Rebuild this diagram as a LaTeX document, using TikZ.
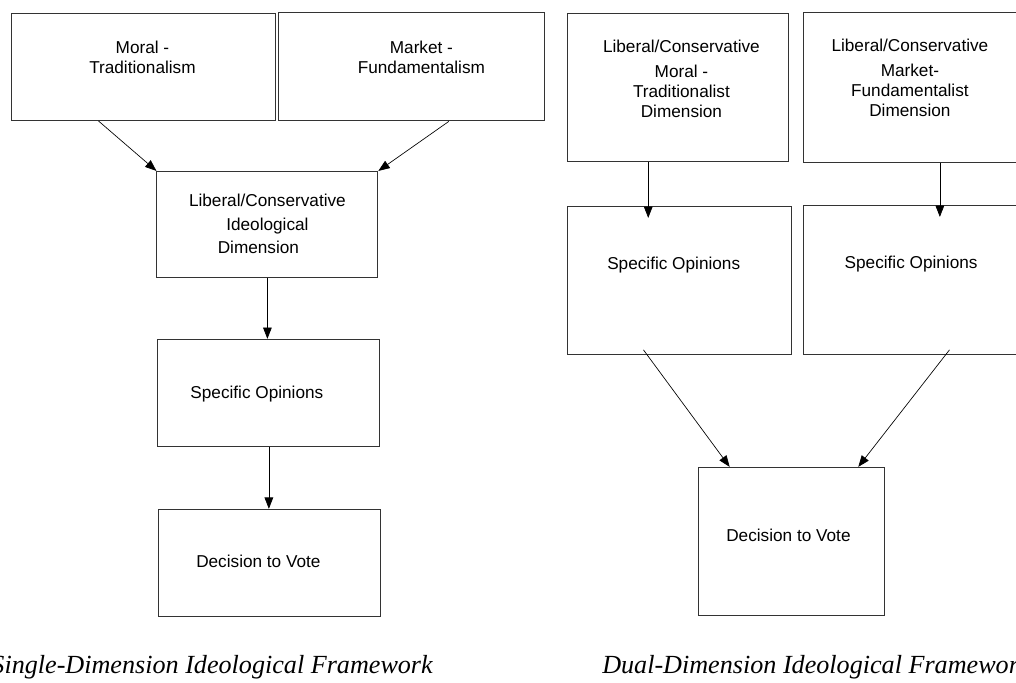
\documentclass[tikz,border=0pt]{standalone}
\usepackage{fontspec}
\setmainfont{Liberation Sans}
\newfontfamily\captionfont{Liberation Serif}
\usetikzlibrary{positioning, calc, arrows.meta}

\begin{document}
\begin{tikzpicture}[>={Triangle[length=8.5pt,width=6.5pt]},
    box/.style={draw=black!80, line width=0.7pt, rectangle, inner sep=0pt},
    boxtext/.style={inner sep=0pt, align=center, font=\fontsize{12.9}{15}\selectfont},
    link/.style={->, line width=0.5pt},
    caption/.style={inner sep=0pt, font=\captionfont\itshape\fontsize{19.6}{24}\selectfont}]
\useasboundingbox (0,0) rectangle (762pt,511.5pt);

% Left: single dimension
\node[box, minimum width=198pt, minimum height=80.25pt, anchor=north west] (moral) at (8.25pt,501.75pt) {};
\node[box, minimum width=199.5pt, minimum height=81pt, right=1.5pt of moral] (market) {};
\node[box, minimum width=165.75pt, minimum height=79.5pt, below=37.5pt of moral.south east, xshift=-6.4pt] (ideo) {};
\node[box, minimum width=166.5pt, minimum height=80.25pt, below=45.75pt of ideo, xshift=1.1pt] (opin) {};
\node[box, minimum width=166.5pt, minimum height=80.25pt, below=46.5pt of opin, xshift=0.75pt] (vote) {};

% (base = last line)
\node[boxtext, below=45.75pt of moral.north, anchor=base, xshift=-0.75pt] (moralT) {Moral -\\Traditionalism};
\node[boxtext, below=45.75pt of market.north, anchor=base, xshift=7.5pt] (marketT) {Market -\\Fundamentalism};
\node[boxtext, below=62.25pt of ideo.north, anchor=base] (ideoT) {Liberal/Conservative\\[2.6pt]Ideological\hspace*{13.5pt}\\[2.6pt]Dimension\hspace*{13.5pt}};
\node[boxtext, below=44.6pt of opin.north, anchor=base, xshift=-9pt] (opinT) {Specific Opinions};
\node[boxtext, below=44.25pt of vote.north, anchor=base, xshift=-8.6pt] (voteT) {Decision to Vote};

% Right: dual dimension
\node[box, minimum width=165.75pt, minimum height=111pt, anchor=north west] (lcmoral) at (425.25pt,501.75pt) {};
\node[box, minimum width=159.75pt, minimum height=112.5pt, right=10.5pt of lcmoral] (lcmarket) {};
\node[box, minimum width=168pt, minimum height=111pt, below=33pt of lcmoral, xshift=1.1pt] (opinA) {};
\node[box, minimum width=159.75pt, minimum height=111.75pt, below=31.5pt of lcmarket] (opinB) {};
\node[box, minimum width=139.5pt, minimum height=111pt, below=84pt of opinA.south east] (voteB) {};

\node[boxtext, below=78.2pt of lcmoral.north, anchor=base, xshift=2.6pt] (lcmoralT) {Liberal/Conservative\\[3.4pt]Moral -\\Traditionalist\\Dimension};
\node[boxtext, below=78.2pt of lcmarket.north, anchor=base] (lcmarketT) {Liberal/Conservative\\[3.4pt]Market-\\Fundamentalist\\Dimension};
\node[boxtext, below=48pt of opinA.north, anchor=base, xshift=-4.3pt] (opinAT) {Specific Opinions};
\node[boxtext, below=48pt of opinB.north, anchor=base, xshift=0.9pt] (opinBT) {Specific Opinions};
\node[boxtext, below=56.25pt of voteB.north, anchor=base, xshift=-2.6pt] (voteBT) {Decision to Vote};

% Captions
\node[caption, anchor=base east] (single) at (324.75pt,6.75pt) {Single-Dimension Ideological Framework};
\node[caption, anchor=base west] (dual) at (451.5pt,6.75pt) {Dual-Dimension Ideological Framework};

% Connectors
\draw[link] ($(moral.south west)!0.33!(moral.south east)$) -- (ideo.north west);
\draw[link] ($(market.south west)!0.64!(market.south east)$) -- (ideo.north east);
\draw[link] (ideo.south) -- (ideo.south |- opin.north);
\draw[link] (opin.south) -- (opin.south |- vote.north);
\draw[link] ($(lcmoral.south west)!0.366!(lcmoral.south east)$) coordinate (m1) -- ($(m1 |- opinA.north)+(0,-9pt)$);
\draw[link] ($(lcmarket.south west)!0.64!(lcmarket.south east)$) coordinate (m2) -- ($(m2 |- opinB.north)+(0,-9pt)$);
\draw[link] ($(opinA.south west)!0.34!(opinA.south east)+(0,3.75pt)$) -- ($(voteB.north west)!0.167!(voteB.north east)$);
\draw[link] ($(opinB.south west)!0.685!(opinB.south east)+(0,3.75pt)$) -- ($(voteB.north west)!0.855!(voteB.north east)$);
\end{tikzpicture}
\end{document}
